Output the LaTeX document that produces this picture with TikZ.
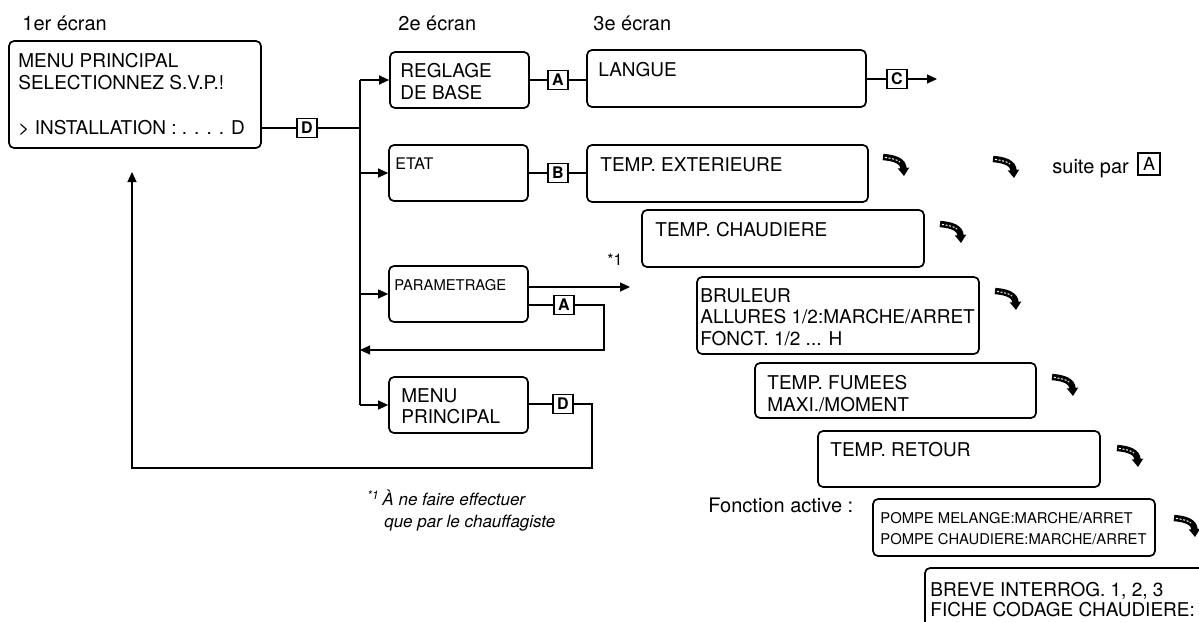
\documentclass[tikz,border=0pt]{standalone}
\usepackage{fontspec}
\setmainfont{TeX Gyre Heros}
\usetikzlibrary{positioning,arrows.meta,fit}
\tikzset{
  screen/.style={draw, rounded corners=2.5pt, line width=0.85pt, inner sep=0pt},
  scrtxt/.style={anchor=north west, inner sep=0pt, align=left, font=\fontsize{9.5}{10.75}\selectfont},
  smalltxt/.style={scrtxt, font=\fontsize{7.4}{10.5}\selectfont},
  keybox/.style={draw, line width=0.75pt, minimum width=10pt, minimum height=9.5pt, inner sep=0pt, font=\bfseries\fontsize{8}{8}\selectfont},
  link/.style={line width=0.6pt},
  flow/.style={link, -{Triangle[length=5pt,width=4.5pt]}},
  caption/.style={anchor=base west, inner sep=0pt, font=\fontsize{10}{12}\selectfont},
  footnote/.style={anchor=base west, inner sep=0pt, font=\fontsize{8.5}{10}\selectfont\itshape},
  nextarrow/.style={line width=3.2pt, -{Triangle[length=4pt,width=5.5pt]}},
}
\begin{document}
\begin{tikzpicture}[x=0.5pt, y=-0.5pt]
\useasboundingbox (0,0) rectangle (1199,621);
\node[caption] (h1) at (22,30) {1er écran};
\node[caption] (h2) at (398,30) {2e écran};
\node[caption] (h3) at (593,30) {3e écran};
% 1er ecran
\node[screen, fit={(9,41) (261,148)}] (main) {};
\node[scrtxt] (main-t) at (18,53) {MENU PRINCIPAL\\SELECTIONNEZ S.V.P.!\\[12pt]> INSTALLATION : . . . . D};
% 2e ecran
\node[screen, fit={(390,52) (529,108)}] (reg) {};
\node[scrtxt] (reg-t) at (400,63) {REGLAGE\\DE BASE};
\node[screen, fit={(389,145) (528,201)}] (etat) {};
\node[scrtxt, font=\fontsize{8}{10}\selectfont] (etat-t) at (395,157) {ETAT};
\node[screen, fit={(389,266) (528,322)}] (par) {};
\node[smalltxt] (par-t) at (394,279) {PARAMETRAGE};
\node[screen, fit={(389,377) (528,433)}] (mp) {};
\node[scrtxt] (mp-t) at (401,388) {MENU\\PRINCIPAL};
% 3e ecran
\node[screen, fit={(587,50) (866,107)}] (lang) {};
\node[scrtxt] (lang-t) at (598,62) {LANGUE};
\node[screen, fit={(587,145) (868,202)}] (ext) {};
\node[scrtxt] (ext-t) at (600,157) {TEMP. EXTERIEURE};
\node[screen, fit={(642,210) (924,267)}] (chaud) {};
\node[scrtxt] (chaud-t) at (655,222) {TEMP. CHAUDIERE};
\node[screen, fit={(697,277) (979,354)}] (brul) {};
\node[scrtxt] (brul-t) at (700,288) {BRULEUR\\ALLURES 1/2:MARCHE/ARRET\\FONCT. 1/2 ... H};
\node[screen, fit={(755,363) (1036,418)}] (fum) {};
\node[scrtxt] (fum-t) at (767,375) {TEMP. FUMEES\\MAXI./MOMENT};
\node[screen, fit={(818,431) (1100,487)}] (ret) {};
\node[scrtxt] (ret-t) at (830,442) {TEMP. RETOUR};
\node[screen, fit={(873,499) (1155,556)}] (pompe) {};
\node[smalltxt] (pompe-t) at (880,512) {POMPE MELANGE:MARCHE/ARRET\\POMPE CHAUDIERE:MARCHE/ARRET};
\node[screen, fit={(925,568) (1260,680)}] (breve) {};
\node[scrtxt, font=\fontsize{9.5}{9.8}\selectfont] (breve-t) at (930,582) {BREVE INTERROG. 1, 2, 3\\FICHE CODAGE CHAUDIERE:};
\node[caption] (fa) at (708,512) {Fonction active :};
% touches
\node[keybox] (kD1) at (307,128) {D};
\node[keybox] (kA1) at (558,80) {A};
\node[keybox] (kB) at (558,173) {B};
\node[keybox] (kC) at (897,79) {C};
\node[keybox] (kA2) at (564,305) {A};
\node[keybox] (kD2) at (563,404) {D};
\node[caption] (suite) at (1052,173) {suite par};
\node[keybox, minimum width=11pt, minimum height=11pt, font=\fontsize{9}{9}\selectfont] (kA3) at (1149,164) {A};
% liaisons
\coordinate (bus) at (360,128);
\draw[link] (main.east |- kD1) -- (kD1) -- (bus);
\draw[link] (bus |- reg.west) -- (bus |- mp.west);
\foreach \n in {reg,etat,par,mp} \draw[flow] (bus |- \n.west) -- (\n.west);
\draw[link] (reg.east |- kA1) -- (kA1) -- (lang.west |- kA1);
\draw[link] (etat.east |- kB) -- (kB) -- (ext.west |- kB);
\coordinate (c-end) at (937,79);
\draw[link] (lang.east |- kC) -- (kC);
\draw[flow] (kC) -- (c-end);
\coordinate (p-out) at (630,287);
\draw[flow] (par.east |- p-out) -- (p-out);
\node[font=\fontsize{8}{9}\selectfont, inner sep=0pt] (star) at (615,260) {*1};
\coordinate (p-ret) at (604,350);
\draw[link] (par.east |- kA2) -- (kA2);
\draw[flow] (kA2) -| (p-ret) -- (bus |- p-ret);
\coordinate (mp-ret) at (592,468);
\coordinate (back) at (132,172);
\draw[link] (mp.east |- kD2) -- (kD2);
\draw[flow] (kD2) -| (mp-ret) -| (back);
% renvoi
\node[footnote] (note1) at (367,505) {\textsuperscript{*1}\,À ne faire effectuer};
\node[footnote] (note2) at (384,527) {que par le chauffagiste};
% fleches suivant
\foreach \x/\y in {895/164, 1005/166, 952/231, 1007/298, 1064/384, 1129/455, 1186/525}{
  \draw[nextarrow, shift={(\x,\y)}] (-12,-7) .. controls (0,-6) and (8,-3) .. (9,12);
  \draw[white, line width=0.5pt, dash pattern=on 1pt off 0.8pt, shift={(\x,\y)}] (-10,-6.6) .. controls (-3,-5.5) and (2,-4.5) .. (5,-2);
}
\end{tikzpicture}
\end{document}
